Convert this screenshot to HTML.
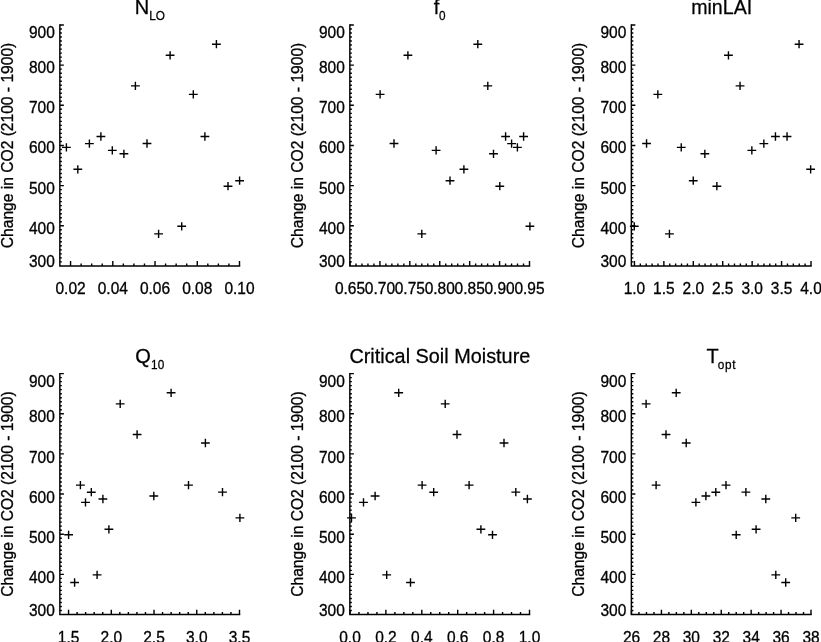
<!DOCTYPE html>
<html><head><meta charset="utf-8"><style>html,body{margin:0;padding:0;background:#fff;width:821px;height:642px;overflow:hidden}svg{display:block;filter:grayscale(1)}text{font-family:"Liberation Sans",sans-serif;fill:#000}</style></head><body>
<svg width="821" height="642" viewBox="0 0 821 642">
<rect width="821" height="642" fill="#fff"/>
<path d="M59.85 261.88h2.00M59.85 257.87h2.00M59.85 253.85h2.00M59.85 249.84h2.00M59.85 245.82h2.00M59.85 241.81h2.00M59.85 237.79h2.00M59.85 233.78h2.00M59.85 229.76h2.00M59.85 225.75h4.00M59.85 221.73h2.00M59.85 217.72h2.00M59.85 213.70h2.00M59.85 209.69h2.00M59.85 205.67h2.00M59.85 201.66h2.00M59.85 197.64h2.00M59.85 193.63h2.00M59.85 189.61h2.00M59.85 185.60h4.00M59.85 181.58h2.00M59.85 177.57h2.00M59.85 173.55h2.00M59.85 169.54h2.00M59.85 165.52h2.00M59.85 161.51h2.00M59.85 157.50h2.00M59.85 153.48h2.00M59.85 149.46h2.00M59.85 145.45h4.00M59.85 141.44h2.00M59.85 137.42h2.00M59.85 133.41h2.00M59.85 129.39h2.00M59.85 125.38h2.00M59.85 121.36h2.00M59.85 117.34h2.00M59.85 113.33h2.00M59.85 109.31h2.00M59.85 105.30h4.00M59.85 101.28h2.00M59.85 97.27h2.00M59.85 93.25h2.00M59.85 89.24h2.00M59.85 85.22h2.00M59.85 81.21h2.00M59.85 77.19h2.00M59.85 73.18h2.00M59.85 69.16h2.00M59.85 65.15h4.00M59.85 61.13h2.00M59.85 57.12h2.00M59.85 53.10h2.00M59.85 49.09h2.00M59.85 45.07h2.00M59.85 41.06h2.00M59.85 37.04h2.00M59.85 33.03h2.00M59.85 29.01h2.00M59.85 25.00h4.00M70.56 265.90v-4.80M81.12 265.90v-2.50M91.68 265.90v-2.50M102.24 265.90v-2.50M112.79 265.90v-4.80M123.35 265.90v-2.50M133.91 265.90v-2.50M144.47 265.90v-2.50M155.03 265.90v-4.80M165.59 265.90v-2.50M176.15 265.90v-2.50M186.71 265.90v-2.50M197.26 265.90v-4.80M207.82 265.90v-2.50M218.38 265.90v-2.50M228.94 265.90v-2.50M239.50 265.90v-4.80" fill="none" stroke="#000" stroke-width="1.40" stroke-linecap="butt"/>
<path d="M59.85 25.00V265.90H239.50" fill="none" stroke="#000" stroke-width="1.45" stroke-linejoin="miter" stroke-linecap="square"/>
<text transform="translate(54.80 266.50) scale(1 1.030)" font-size="15.50" text-anchor="end" stroke="#000" stroke-width="0.3">300</text>
<text transform="translate(54.80 233.75) scale(1 1.030)" font-size="15.50" text-anchor="end" stroke="#000" stroke-width="0.3">400</text>
<text transform="translate(54.80 193.60) scale(1 1.030)" font-size="15.50" text-anchor="end" stroke="#000" stroke-width="0.3">500</text>
<text transform="translate(54.80 153.45) scale(1 1.030)" font-size="15.50" text-anchor="end" stroke="#000" stroke-width="0.3">600</text>
<text transform="translate(54.80 113.30) scale(1 1.030)" font-size="15.50" text-anchor="end" stroke="#000" stroke-width="0.3">700</text>
<text transform="translate(54.80 73.15) scale(1 1.030)" font-size="15.50" text-anchor="end" stroke="#000" stroke-width="0.3">800</text>
<text transform="translate(54.80 37.60) scale(1 1.030)" font-size="15.50" text-anchor="end" stroke="#000" stroke-width="0.3">900</text>
<text transform="translate(70.56 293.80) scale(1 1.030)" font-size="15.50" text-anchor="middle" stroke="#000" stroke-width="0.3">0.02</text>
<text transform="translate(112.79 293.80) scale(1 1.030)" font-size="15.50" text-anchor="middle" stroke="#000" stroke-width="0.3">0.04</text>
<text transform="translate(155.03 293.80) scale(1 1.030)" font-size="15.50" text-anchor="middle" stroke="#000" stroke-width="0.3">0.06</text>
<text transform="translate(197.26 293.80) scale(1 1.030)" font-size="15.50" text-anchor="middle" stroke="#000" stroke-width="0.3">0.08</text>
<text transform="translate(239.50 293.80) scale(1 1.030)" font-size="15.50" text-anchor="middle" stroke="#000" stroke-width="0.3">0.10</text>
<text transform="translate(12.60 145.45) rotate(-90) scale(1 1.065)" font-size="15.60" text-anchor="middle" stroke="#000" stroke-width="0.3">Change in CO2 (2100 - 1900)</text>
<text transform="translate(134.66 14.30) scale(1 1.040)" font-size="20.00" stroke="#000" stroke-width="0.25">N</text>
<text transform="translate(149.20 20.10) scale(1 1.040)" font-size="11.80" letter-spacing="0.00" stroke="#000" stroke-width="0.25">LO</text>
<path d="M62.00 147.40h8.80M66.40 143.25v8.30M73.40 169.30h8.80M77.80 165.15v8.30M85.00 143.60h8.80M89.40 139.45v8.30M96.50 136.50h8.80M100.90 132.35v8.30M107.90 150.40h8.80M112.30 146.25v8.30M119.50 153.80h8.80M123.90 149.65v8.30M131.00 85.90h8.80M135.40 81.75v8.30M142.60 143.50h8.80M147.00 139.35v8.30M154.20 233.90h8.80M158.60 229.75v8.30M165.70 55.30h8.80M170.10 51.15v8.30M177.30 226.30h8.80M181.70 222.15v8.30M188.90 94.40h8.80M193.30 90.25v8.30M200.50 136.50h8.80M204.90 132.35v8.30M212.00 44.20h8.80M216.40 40.05v8.30M223.60 186.20h8.80M228.00 182.05v8.30M235.20 180.70h8.80M239.60 176.55v8.30" fill="none" stroke="#000" stroke-width="1.40"/>
<path d="M349.85 261.88h2.00M349.85 257.87h2.00M349.85 253.85h2.00M349.85 249.84h2.00M349.85 245.82h2.00M349.85 241.81h2.00M349.85 237.79h2.00M349.85 233.78h2.00M349.85 229.76h2.00M349.85 225.75h4.00M349.85 221.73h2.00M349.85 217.72h2.00M349.85 213.70h2.00M349.85 209.69h2.00M349.85 205.67h2.00M349.85 201.66h2.00M349.85 197.64h2.00M349.85 193.63h2.00M349.85 189.61h2.00M349.85 185.60h4.00M349.85 181.58h2.00M349.85 177.57h2.00M349.85 173.55h2.00M349.85 169.54h2.00M349.85 165.52h2.00M349.85 161.51h2.00M349.85 157.50h2.00M349.85 153.48h2.00M349.85 149.46h2.00M349.85 145.45h4.00M349.85 141.44h2.00M349.85 137.42h2.00M349.85 133.41h2.00M349.85 129.39h2.00M349.85 125.38h2.00M349.85 121.36h2.00M349.85 117.34h2.00M349.85 113.33h2.00M349.85 109.31h2.00M349.85 105.30h4.00M349.85 101.28h2.00M349.85 97.27h2.00M349.85 93.25h2.00M349.85 89.24h2.00M349.85 85.22h2.00M349.85 81.21h2.00M349.85 77.19h2.00M349.85 73.18h2.00M349.85 69.16h2.00M349.85 65.15h4.00M349.85 61.13h2.00M349.85 57.12h2.00M349.85 53.10h2.00M349.85 49.09h2.00M349.85 45.07h2.00M349.85 41.06h2.00M349.85 37.04h2.00M349.85 33.03h2.00M349.85 29.01h2.00M349.85 25.00h4.00M350.00 265.90v-4.80M355.98 265.90v-2.50M361.97 265.90v-2.50M367.95 265.90v-2.50M373.93 265.90v-2.50M379.92 265.90v-4.80M385.90 265.90v-2.50M391.88 265.90v-2.50M397.87 265.90v-2.50M403.85 265.90v-2.50M409.83 265.90v-4.80M415.82 265.90v-2.50M421.80 265.90v-2.50M427.78 265.90v-2.50M433.77 265.90v-2.50M439.75 265.90v-4.80M445.73 265.90v-2.50M451.72 265.90v-2.50M457.70 265.90v-2.50M463.68 265.90v-2.50M469.67 265.90v-4.80M475.65 265.90v-2.50M481.63 265.90v-2.50M487.62 265.90v-2.50M493.60 265.90v-2.50M499.58 265.90v-4.80M505.57 265.90v-2.50M511.55 265.90v-2.50M517.53 265.90v-2.50M523.52 265.90v-2.50M529.50 265.90v-4.80" fill="none" stroke="#000" stroke-width="1.40" stroke-linecap="butt"/>
<path d="M349.85 25.00V265.90H529.50" fill="none" stroke="#000" stroke-width="1.45" stroke-linejoin="miter" stroke-linecap="square"/>
<text transform="translate(344.80 266.50) scale(1 1.030)" font-size="15.50" text-anchor="end" stroke="#000" stroke-width="0.3">300</text>
<text transform="translate(344.80 233.75) scale(1 1.030)" font-size="15.50" text-anchor="end" stroke="#000" stroke-width="0.3">400</text>
<text transform="translate(344.80 193.60) scale(1 1.030)" font-size="15.50" text-anchor="end" stroke="#000" stroke-width="0.3">500</text>
<text transform="translate(344.80 153.45) scale(1 1.030)" font-size="15.50" text-anchor="end" stroke="#000" stroke-width="0.3">600</text>
<text transform="translate(344.80 113.30) scale(1 1.030)" font-size="15.50" text-anchor="end" stroke="#000" stroke-width="0.3">700</text>
<text transform="translate(344.80 73.15) scale(1 1.030)" font-size="15.50" text-anchor="end" stroke="#000" stroke-width="0.3">800</text>
<text transform="translate(344.80 37.60) scale(1 1.030)" font-size="15.50" text-anchor="end" stroke="#000" stroke-width="0.3">900</text>
<text transform="translate(350.00 293.80) scale(1 1.030)" font-size="15.50" text-anchor="middle" stroke="#000" stroke-width="0.3">0.65</text>
<text transform="translate(379.92 293.80) scale(1 1.030)" font-size="15.50" text-anchor="middle" stroke="#000" stroke-width="0.3">0.70</text>
<text transform="translate(409.83 293.80) scale(1 1.030)" font-size="15.50" text-anchor="middle" stroke="#000" stroke-width="0.3">0.75</text>
<text transform="translate(439.75 293.80) scale(1 1.030)" font-size="15.50" text-anchor="middle" stroke="#000" stroke-width="0.3">0.80</text>
<text transform="translate(469.67 293.80) scale(1 1.030)" font-size="15.50" text-anchor="middle" stroke="#000" stroke-width="0.3">0.85</text>
<text transform="translate(499.58 293.80) scale(1 1.030)" font-size="15.50" text-anchor="middle" stroke="#000" stroke-width="0.3">0.90</text>
<text transform="translate(529.50 293.80) scale(1 1.030)" font-size="15.50" text-anchor="middle" stroke="#000" stroke-width="0.3">0.95</text>
<text transform="translate(302.60 145.45) rotate(-90) scale(1 1.065)" font-size="15.60" text-anchor="middle" stroke="#000" stroke-width="0.3">Change in CO2 (2100 - 1900)</text>
<text transform="translate(433.80 14.30) scale(1 1.040)" font-size="20.00" stroke="#000" stroke-width="0.25">f</text>
<text transform="translate(439.00 20.10) scale(1 1.040)" font-size="11.80" letter-spacing="0.00" stroke="#000" stroke-width="0.25">0</text>
<path d="M473.40 44.20h8.80M477.80 40.05v8.30M403.50 55.30h8.80M407.90 51.15v8.30M483.40 85.90h8.80M487.80 81.75v8.30M375.70 94.40h8.80M380.10 90.25v8.30M501.20 136.50h8.80M505.60 132.35v8.30M519.20 136.50h8.80M523.60 132.35v8.30M389.60 143.50h8.80M394.00 139.35v8.30M507.20 143.60h8.80M511.60 139.45v8.30M513.00 147.40h8.80M517.40 143.25v8.30M431.70 150.40h8.80M436.10 146.25v8.30M489.10 153.80h8.80M493.50 149.65v8.30M459.50 169.30h8.80M463.90 165.15v8.30M445.60 180.70h8.80M450.00 176.55v8.30M495.40 186.20h8.80M499.80 182.05v8.30M525.50 226.30h8.80M529.90 222.15v8.30M417.40 233.90h8.80M421.80 229.75v8.30" fill="none" stroke="#000" stroke-width="1.40"/>
<path d="M631.35 261.88h2.00M631.35 257.87h2.00M631.35 253.85h2.00M631.35 249.84h2.00M631.35 245.82h2.00M631.35 241.81h2.00M631.35 237.79h2.00M631.35 233.78h2.00M631.35 229.76h2.00M631.35 225.75h4.00M631.35 221.73h2.00M631.35 217.72h2.00M631.35 213.70h2.00M631.35 209.69h2.00M631.35 205.67h2.00M631.35 201.66h2.00M631.35 197.64h2.00M631.35 193.63h2.00M631.35 189.61h2.00M631.35 185.60h4.00M631.35 181.58h2.00M631.35 177.57h2.00M631.35 173.55h2.00M631.35 169.54h2.00M631.35 165.52h2.00M631.35 161.51h2.00M631.35 157.50h2.00M631.35 153.48h2.00M631.35 149.46h2.00M631.35 145.45h4.00M631.35 141.44h2.00M631.35 137.42h2.00M631.35 133.41h2.00M631.35 129.39h2.00M631.35 125.38h2.00M631.35 121.36h2.00M631.35 117.34h2.00M631.35 113.33h2.00M631.35 109.31h2.00M631.35 105.30h4.00M631.35 101.28h2.00M631.35 97.27h2.00M631.35 93.25h2.00M631.35 89.24h2.00M631.35 85.22h2.00M631.35 81.21h2.00M631.35 77.19h2.00M631.35 73.18h2.00M631.35 69.16h2.00M631.35 65.15h4.00M631.35 61.13h2.00M631.35 57.12h2.00M631.35 53.10h2.00M631.35 49.09h2.00M631.35 45.07h2.00M631.35 41.06h2.00M631.35 37.04h2.00M631.35 33.03h2.00M631.35 29.01h2.00M631.35 25.00h4.00M634.44 265.90v-4.80M640.33 265.90v-2.50M646.21 265.90v-2.50M652.10 265.90v-2.50M657.98 265.90v-2.50M663.87 265.90v-4.80M669.75 265.90v-2.50M675.64 265.90v-2.50M681.52 265.90v-2.50M687.41 265.90v-2.50M693.30 265.90v-4.80M699.18 265.90v-2.50M705.07 265.90v-2.50M710.95 265.90v-2.50M716.84 265.90v-2.50M722.72 265.90v-4.80M728.61 265.90v-2.50M734.49 265.90v-2.50M740.38 265.90v-2.50M746.26 265.90v-2.50M752.15 265.90v-4.80M758.03 265.90v-2.50M763.92 265.90v-2.50M769.80 265.90v-2.50M775.69 265.90v-2.50M781.57 265.90v-4.80M787.46 265.90v-2.50M793.34 265.90v-2.50M799.23 265.90v-2.50M805.11 265.90v-2.50M811.00 265.90v-4.80" fill="none" stroke="#000" stroke-width="1.40" stroke-linecap="butt"/>
<path d="M631.35 25.00V265.90H811.00" fill="none" stroke="#000" stroke-width="1.45" stroke-linejoin="miter" stroke-linecap="square"/>
<text transform="translate(626.30 266.50) scale(1 1.030)" font-size="15.50" text-anchor="end" stroke="#000" stroke-width="0.3">300</text>
<text transform="translate(626.30 233.75) scale(1 1.030)" font-size="15.50" text-anchor="end" stroke="#000" stroke-width="0.3">400</text>
<text transform="translate(626.30 193.60) scale(1 1.030)" font-size="15.50" text-anchor="end" stroke="#000" stroke-width="0.3">500</text>
<text transform="translate(626.30 153.45) scale(1 1.030)" font-size="15.50" text-anchor="end" stroke="#000" stroke-width="0.3">600</text>
<text transform="translate(626.30 113.30) scale(1 1.030)" font-size="15.50" text-anchor="end" stroke="#000" stroke-width="0.3">700</text>
<text transform="translate(626.30 73.15) scale(1 1.030)" font-size="15.50" text-anchor="end" stroke="#000" stroke-width="0.3">800</text>
<text transform="translate(626.30 37.60) scale(1 1.030)" font-size="15.50" text-anchor="end" stroke="#000" stroke-width="0.3">900</text>
<text transform="translate(634.44 293.80) scale(1 1.030)" font-size="15.50" text-anchor="middle" stroke="#000" stroke-width="0.3">1.0</text>
<text transform="translate(663.87 293.80) scale(1 1.030)" font-size="15.50" text-anchor="middle" stroke="#000" stroke-width="0.3">1.5</text>
<text transform="translate(693.30 293.80) scale(1 1.030)" font-size="15.50" text-anchor="middle" stroke="#000" stroke-width="0.3">2.0</text>
<text transform="translate(722.72 293.80) scale(1 1.030)" font-size="15.50" text-anchor="middle" stroke="#000" stroke-width="0.3">2.5</text>
<text transform="translate(752.15 293.80) scale(1 1.030)" font-size="15.50" text-anchor="middle" stroke="#000" stroke-width="0.3">3.0</text>
<text transform="translate(781.57 293.80) scale(1 1.030)" font-size="15.50" text-anchor="middle" stroke="#000" stroke-width="0.3">3.5</text>
<text transform="translate(811.00 293.80) scale(1 1.030)" font-size="15.50" text-anchor="middle" stroke="#000" stroke-width="0.3">4.0</text>
<text transform="translate(584.10 145.45) rotate(-90) scale(1 1.065)" font-size="15.60" text-anchor="middle" stroke="#000" stroke-width="0.3">Change in CO2 (2100 - 1900)</text>
<text transform="translate(691.20 14.30) scale(1 1.040)" font-size="19.60" stroke="#000" stroke-width="0.25">minLAI</text>
<path d="M794.65 44.20h8.80M799.05 40.05v8.30M724.05 55.30h8.80M728.45 51.15v8.30M735.65 85.90h8.80M740.05 81.75v8.30M653.45 94.40h8.80M657.85 90.25v8.30M771.05 136.50h8.80M775.45 132.35v8.30M782.65 136.50h8.80M787.05 132.35v8.30M642.15 143.50h8.80M646.55 139.35v8.30M759.45 143.60h8.80M763.85 139.45v8.30M676.85 147.40h8.80M681.25 143.25v8.30M747.45 150.40h8.80M751.85 146.25v8.30M700.45 153.80h8.80M704.85 149.65v8.30M806.25 169.30h8.80M810.65 165.15v8.30M688.85 180.70h8.80M693.25 176.55v8.30M712.45 186.20h8.80M716.85 182.05v8.30M629.85 226.30h8.80M634.25 222.15v8.30M665.05 233.90h8.80M669.45 229.75v8.30" fill="none" stroke="#000" stroke-width="1.40"/>
<path d="M59.85 610.49h2.00M59.85 606.47h2.00M59.85 602.46h2.00M59.85 598.44h2.00M59.85 594.42h2.00M59.85 590.41h2.00M59.85 586.39h2.00M59.85 582.38h2.00M59.85 578.37h2.00M59.85 574.35h4.00M59.85 570.34h2.00M59.85 566.32h2.00M59.85 562.31h2.00M59.85 558.29h2.00M59.85 554.27h2.00M59.85 550.26h2.00M59.85 546.25h2.00M59.85 542.23h2.00M59.85 538.22h2.00M59.85 534.20h4.00M59.85 530.18h2.00M59.85 526.17h2.00M59.85 522.15h2.00M59.85 518.14h2.00M59.85 514.12h2.00M59.85 510.11h2.00M59.85 506.10h2.00M59.85 502.08h2.00M59.85 498.06h2.00M59.85 494.05h4.00M59.85 490.04h2.00M59.85 486.02h2.00M59.85 482.00h2.00M59.85 477.99h2.00M59.85 473.98h2.00M59.85 469.96h2.00M59.85 465.95h2.00M59.85 461.93h2.00M59.85 457.92h2.00M59.85 453.90h4.00M59.85 449.88h2.00M59.85 445.87h2.00M59.85 441.86h2.00M59.85 437.84h2.00M59.85 433.83h2.00M59.85 429.81h2.00M59.85 425.80h2.00M59.85 421.78h2.00M59.85 417.76h2.00M59.85 413.75h4.00M59.85 409.74h2.00M59.85 405.72h2.00M59.85 401.71h2.00M59.85 397.69h2.00M59.85 393.68h2.00M59.85 389.66h2.00M59.85 385.64h2.00M59.85 381.63h2.00M59.85 377.62h2.00M59.85 373.60h4.00M68.55 614.50v-4.80M77.10 614.50v-2.50M85.64 614.50v-2.50M94.19 614.50v-2.50M102.74 614.50v-2.50M111.29 614.50v-4.80M119.83 614.50v-2.50M128.38 614.50v-2.50M136.93 614.50v-2.50M145.48 614.50v-2.50M154.02 614.50v-4.80M162.57 614.50v-2.50M171.12 614.50v-2.50M179.67 614.50v-2.50M188.21 614.50v-2.50M196.76 614.50v-4.80M205.31 614.50v-2.50M213.86 614.50v-2.50M222.40 614.50v-2.50M230.95 614.50v-2.50M239.50 614.50v-4.80" fill="none" stroke="#000" stroke-width="1.40" stroke-linecap="butt"/>
<path d="M59.85 373.60V614.50H239.50" fill="none" stroke="#000" stroke-width="1.45" stroke-linejoin="miter" stroke-linecap="square"/>
<text transform="translate(54.80 615.70) scale(1 1.030)" font-size="15.50" text-anchor="end" stroke="#000" stroke-width="0.3">300</text>
<text transform="translate(54.80 582.95) scale(1 1.030)" font-size="15.50" text-anchor="end" stroke="#000" stroke-width="0.3">400</text>
<text transform="translate(54.80 542.80) scale(1 1.030)" font-size="15.50" text-anchor="end" stroke="#000" stroke-width="0.3">500</text>
<text transform="translate(54.80 502.65) scale(1 1.030)" font-size="15.50" text-anchor="end" stroke="#000" stroke-width="0.3">600</text>
<text transform="translate(54.80 462.50) scale(1 1.030)" font-size="15.50" text-anchor="end" stroke="#000" stroke-width="0.3">700</text>
<text transform="translate(54.80 422.35) scale(1 1.030)" font-size="15.50" text-anchor="end" stroke="#000" stroke-width="0.3">800</text>
<text transform="translate(54.80 386.80) scale(1 1.030)" font-size="15.50" text-anchor="end" stroke="#000" stroke-width="0.3">900</text>
<text transform="translate(68.55 643.10) scale(1 1.030)" font-size="15.50" text-anchor="middle" stroke="#000" stroke-width="0.3">1.5</text>
<text transform="translate(111.29 643.10) scale(1 1.030)" font-size="15.50" text-anchor="middle" stroke="#000" stroke-width="0.3">2.0</text>
<text transform="translate(154.02 643.10) scale(1 1.030)" font-size="15.50" text-anchor="middle" stroke="#000" stroke-width="0.3">2.5</text>
<text transform="translate(196.76 643.10) scale(1 1.030)" font-size="15.50" text-anchor="middle" stroke="#000" stroke-width="0.3">3.0</text>
<text transform="translate(239.50 643.10) scale(1 1.030)" font-size="15.50" text-anchor="middle" stroke="#000" stroke-width="0.3">3.5</text>
<text transform="translate(12.60 494.05) rotate(-90) scale(1 1.065)" font-size="15.60" text-anchor="middle" stroke="#000" stroke-width="0.3">Change in CO2 (2100 - 1900)</text>
<text transform="translate(135.35 362.90) scale(1 1.040)" font-size="20.00" stroke="#000" stroke-width="0.25">Q</text>
<text transform="translate(151.10 368.70) scale(1 1.040)" font-size="11.80" letter-spacing="0.00" stroke="#000" stroke-width="0.25">10</text>
<path d="M166.70 392.80h8.80M171.10 388.65v8.30M115.80 403.90h8.80M120.20 399.75v8.30M132.70 434.50h8.80M137.10 430.35v8.30M201.00 443.00h8.80M205.40 438.85v8.30M76.00 485.10h8.80M80.40 480.95v8.30M184.10 485.10h8.80M188.50 480.95v8.30M86.90 492.20h8.80M91.30 488.05v8.30M218.10 492.10h8.80M222.50 487.95v8.30M149.40 496.00h8.80M153.80 491.85v8.30M98.50 499.00h8.80M102.90 494.85v8.30M81.10 502.40h8.80M85.50 498.25v8.30M235.50 517.90h8.80M239.90 513.75v8.30M104.50 529.30h8.80M108.90 525.15v8.30M64.20 534.80h8.80M68.60 530.65v8.30M92.70 574.90h8.80M97.10 570.75v8.30M70.20 582.50h8.80M74.60 578.35v8.30" fill="none" stroke="#000" stroke-width="1.40"/>
<path d="M349.85 610.49h2.00M349.85 606.47h2.00M349.85 602.46h2.00M349.85 598.44h2.00M349.85 594.42h2.00M349.85 590.41h2.00M349.85 586.39h2.00M349.85 582.38h2.00M349.85 578.37h2.00M349.85 574.35h4.00M349.85 570.34h2.00M349.85 566.32h2.00M349.85 562.31h2.00M349.85 558.29h2.00M349.85 554.27h2.00M349.85 550.26h2.00M349.85 546.25h2.00M349.85 542.23h2.00M349.85 538.22h2.00M349.85 534.20h4.00M349.85 530.18h2.00M349.85 526.17h2.00M349.85 522.15h2.00M349.85 518.14h2.00M349.85 514.12h2.00M349.85 510.11h2.00M349.85 506.10h2.00M349.85 502.08h2.00M349.85 498.06h2.00M349.85 494.05h4.00M349.85 490.04h2.00M349.85 486.02h2.00M349.85 482.00h2.00M349.85 477.99h2.00M349.85 473.98h2.00M349.85 469.96h2.00M349.85 465.95h2.00M349.85 461.93h2.00M349.85 457.92h2.00M349.85 453.90h4.00M349.85 449.88h2.00M349.85 445.87h2.00M349.85 441.86h2.00M349.85 437.84h2.00M349.85 433.83h2.00M349.85 429.81h2.00M349.85 425.80h2.00M349.85 421.78h2.00M349.85 417.76h2.00M349.85 413.75h4.00M349.85 409.74h2.00M349.85 405.72h2.00M349.85 401.71h2.00M349.85 397.69h2.00M349.85 393.68h2.00M349.85 389.66h2.00M349.85 385.64h2.00M349.85 381.63h2.00M349.85 377.62h2.00M349.85 373.60h4.00M350.00 614.50v-4.80M358.98 614.50v-2.50M367.95 614.50v-2.50M376.93 614.50v-2.50M385.90 614.50v-4.80M394.88 614.50v-2.50M403.85 614.50v-2.50M412.82 614.50v-2.50M421.80 614.50v-4.80M430.77 614.50v-2.50M439.75 614.50v-2.50M448.73 614.50v-2.50M457.70 614.50v-4.80M466.68 614.50v-2.50M475.65 614.50v-2.50M484.62 614.50v-2.50M493.60 614.50v-4.80M502.57 614.50v-2.50M511.55 614.50v-2.50M520.52 614.50v-2.50M529.50 614.50v-4.80" fill="none" stroke="#000" stroke-width="1.40" stroke-linecap="butt"/>
<path d="M349.85 373.60V614.50H529.50" fill="none" stroke="#000" stroke-width="1.45" stroke-linejoin="miter" stroke-linecap="square"/>
<text transform="translate(344.80 615.70) scale(1 1.030)" font-size="15.50" text-anchor="end" stroke="#000" stroke-width="0.3">300</text>
<text transform="translate(344.80 582.95) scale(1 1.030)" font-size="15.50" text-anchor="end" stroke="#000" stroke-width="0.3">400</text>
<text transform="translate(344.80 542.80) scale(1 1.030)" font-size="15.50" text-anchor="end" stroke="#000" stroke-width="0.3">500</text>
<text transform="translate(344.80 502.65) scale(1 1.030)" font-size="15.50" text-anchor="end" stroke="#000" stroke-width="0.3">600</text>
<text transform="translate(344.80 462.50) scale(1 1.030)" font-size="15.50" text-anchor="end" stroke="#000" stroke-width="0.3">700</text>
<text transform="translate(344.80 422.35) scale(1 1.030)" font-size="15.50" text-anchor="end" stroke="#000" stroke-width="0.3">800</text>
<text transform="translate(344.80 386.80) scale(1 1.030)" font-size="15.50" text-anchor="end" stroke="#000" stroke-width="0.3">900</text>
<text transform="translate(350.00 643.10) scale(1 1.030)" font-size="15.50" text-anchor="middle" stroke="#000" stroke-width="0.3">0.0</text>
<text transform="translate(385.90 643.10) scale(1 1.030)" font-size="15.50" text-anchor="middle" stroke="#000" stroke-width="0.3">0.2</text>
<text transform="translate(421.80 643.10) scale(1 1.030)" font-size="15.50" text-anchor="middle" stroke="#000" stroke-width="0.3">0.4</text>
<text transform="translate(457.70 643.10) scale(1 1.030)" font-size="15.50" text-anchor="middle" stroke="#000" stroke-width="0.3">0.6</text>
<text transform="translate(493.60 643.10) scale(1 1.030)" font-size="15.50" text-anchor="middle" stroke="#000" stroke-width="0.3">0.8</text>
<text transform="translate(529.50 643.10) scale(1 1.030)" font-size="15.50" text-anchor="middle" stroke="#000" stroke-width="0.3">1.0</text>
<text transform="translate(302.60 494.05) rotate(-90) scale(1 1.065)" font-size="15.60" text-anchor="middle" stroke="#000" stroke-width="0.3">Change in CO2 (2100 - 1900)</text>
<text transform="translate(349.40 362.90) scale(1 1.040)" font-size="19.85" stroke="#000" stroke-width="0.25">Critical Soil Moisture</text>
<path d="M394.30 392.80h8.80M398.70 388.65v8.30M440.80 403.90h8.80M445.20 399.75v8.30M452.60 434.50h8.80M457.00 430.35v8.30M499.60 443.00h8.80M504.00 438.85v8.30M417.70 485.10h8.80M422.10 480.95v8.30M464.70 485.10h8.80M469.10 480.95v8.30M429.30 492.20h8.80M433.70 488.05v8.30M511.40 492.10h8.80M515.80 487.95v8.30M370.70 496.00h8.80M375.10 491.85v8.30M523.00 499.00h8.80M527.40 494.85v8.30M359.10 502.40h8.80M363.50 498.25v8.30M347.10 517.90h8.80M351.50 513.75v8.30M476.50 529.30h8.80M480.90 525.15v8.30M488.10 534.80h8.80M492.50 530.65v8.30M382.30 574.90h8.80M386.70 570.75v8.30M406.10 582.50h8.80M410.50 578.35v8.30" fill="none" stroke="#000" stroke-width="1.40"/>
<path d="M631.35 610.49h2.00M631.35 606.47h2.00M631.35 602.46h2.00M631.35 598.44h2.00M631.35 594.42h2.00M631.35 590.41h2.00M631.35 586.39h2.00M631.35 582.38h2.00M631.35 578.37h2.00M631.35 574.35h4.00M631.35 570.34h2.00M631.35 566.32h2.00M631.35 562.31h2.00M631.35 558.29h2.00M631.35 554.27h2.00M631.35 550.26h2.00M631.35 546.25h2.00M631.35 542.23h2.00M631.35 538.22h2.00M631.35 534.20h4.00M631.35 530.18h2.00M631.35 526.17h2.00M631.35 522.15h2.00M631.35 518.14h2.00M631.35 514.12h2.00M631.35 510.11h2.00M631.35 506.10h2.00M631.35 502.08h2.00M631.35 498.06h2.00M631.35 494.05h4.00M631.35 490.04h2.00M631.35 486.02h2.00M631.35 482.00h2.00M631.35 477.99h2.00M631.35 473.98h2.00M631.35 469.96h2.00M631.35 465.95h2.00M631.35 461.93h2.00M631.35 457.92h2.00M631.35 453.90h4.00M631.35 449.88h2.00M631.35 445.87h2.00M631.35 441.86h2.00M631.35 437.84h2.00M631.35 433.83h2.00M631.35 429.81h2.00M631.35 425.80h2.00M631.35 421.78h2.00M631.35 417.76h2.00M631.35 413.75h4.00M631.35 409.74h2.00M631.35 405.72h2.00M631.35 401.71h2.00M631.35 397.69h2.00M631.35 393.68h2.00M631.35 389.66h2.00M631.35 385.64h2.00M631.35 381.63h2.00M631.35 377.62h2.00M631.35 373.60h4.00M631.50 614.50v-4.80M638.98 614.50v-2.50M646.46 614.50v-2.50M653.94 614.50v-2.50M661.42 614.50v-4.80M668.90 614.50v-2.50M676.38 614.50v-2.50M683.85 614.50v-2.50M691.33 614.50v-4.80M698.81 614.50v-2.50M706.29 614.50v-2.50M713.77 614.50v-2.50M721.25 614.50v-4.80M728.73 614.50v-2.50M736.21 614.50v-2.50M743.69 614.50v-2.50M751.17 614.50v-4.80M758.65 614.50v-2.50M766.12 614.50v-2.50M773.60 614.50v-2.50M781.08 614.50v-4.80M788.56 614.50v-2.50M796.04 614.50v-2.50M803.52 614.50v-2.50M811.00 614.50v-4.80" fill="none" stroke="#000" stroke-width="1.40" stroke-linecap="butt"/>
<path d="M631.35 373.60V614.50H811.00" fill="none" stroke="#000" stroke-width="1.45" stroke-linejoin="miter" stroke-linecap="square"/>
<text transform="translate(626.30 615.70) scale(1 1.030)" font-size="15.50" text-anchor="end" stroke="#000" stroke-width="0.3">300</text>
<text transform="translate(626.30 582.95) scale(1 1.030)" font-size="15.50" text-anchor="end" stroke="#000" stroke-width="0.3">400</text>
<text transform="translate(626.30 542.80) scale(1 1.030)" font-size="15.50" text-anchor="end" stroke="#000" stroke-width="0.3">500</text>
<text transform="translate(626.30 502.65) scale(1 1.030)" font-size="15.50" text-anchor="end" stroke="#000" stroke-width="0.3">600</text>
<text transform="translate(626.30 462.50) scale(1 1.030)" font-size="15.50" text-anchor="end" stroke="#000" stroke-width="0.3">700</text>
<text transform="translate(626.30 422.35) scale(1 1.030)" font-size="15.50" text-anchor="end" stroke="#000" stroke-width="0.3">800</text>
<text transform="translate(626.30 386.80) scale(1 1.030)" font-size="15.50" text-anchor="end" stroke="#000" stroke-width="0.3">900</text>
<text transform="translate(631.50 643.10) scale(1 1.030)" font-size="15.50" text-anchor="middle" stroke="#000" stroke-width="0.3">26</text>
<text transform="translate(661.42 643.10) scale(1 1.030)" font-size="15.50" text-anchor="middle" stroke="#000" stroke-width="0.3">28</text>
<text transform="translate(691.33 643.10) scale(1 1.030)" font-size="15.50" text-anchor="middle" stroke="#000" stroke-width="0.3">30</text>
<text transform="translate(721.25 643.10) scale(1 1.030)" font-size="15.50" text-anchor="middle" stroke="#000" stroke-width="0.3">32</text>
<text transform="translate(751.17 643.10) scale(1 1.030)" font-size="15.50" text-anchor="middle" stroke="#000" stroke-width="0.3">34</text>
<text transform="translate(781.08 643.10) scale(1 1.030)" font-size="15.50" text-anchor="middle" stroke="#000" stroke-width="0.3">36</text>
<text transform="translate(811.00 643.10) scale(1 1.030)" font-size="15.50" text-anchor="middle" stroke="#000" stroke-width="0.3">38</text>
<text transform="translate(584.10 494.05) rotate(-90) scale(1 1.065)" font-size="15.60" text-anchor="middle" stroke="#000" stroke-width="0.3">Change in CO2 (2100 - 1900)</text>
<text transform="translate(706.45 362.90) scale(1 1.040)" font-size="20.00" stroke="#000" stroke-width="0.25">T</text>
<text transform="translate(717.70 368.70) scale(1 1.040)" font-size="11.80" letter-spacing="0.70" stroke="#000" stroke-width="0.25">opt</text>
<path d="M671.80 392.80h8.80M676.20 388.65v8.30M641.70 403.90h8.80M646.10 399.75v8.30M661.60 434.50h8.80M666.00 430.35v8.30M681.80 443.00h8.80M686.20 438.85v8.30M651.70 485.10h8.80M656.10 480.95v8.30M721.60 485.10h8.80M726.00 480.95v8.30M711.40 492.20h8.80M715.80 488.05v8.30M741.50 492.10h8.80M745.90 487.95v8.30M701.50 496.00h8.80M705.90 491.85v8.30M761.40 499.00h8.80M765.80 494.85v8.30M691.50 502.40h8.80M695.90 498.25v8.30M791.30 517.90h8.80M795.70 513.75v8.30M751.70 529.30h8.80M756.10 525.15v8.30M731.80 534.80h8.80M736.20 530.65v8.30M771.40 574.90h8.80M775.80 570.75v8.30M781.30 582.50h8.80M785.70 578.35v8.30" fill="none" stroke="#000" stroke-width="1.40"/>
</svg></body></html>
